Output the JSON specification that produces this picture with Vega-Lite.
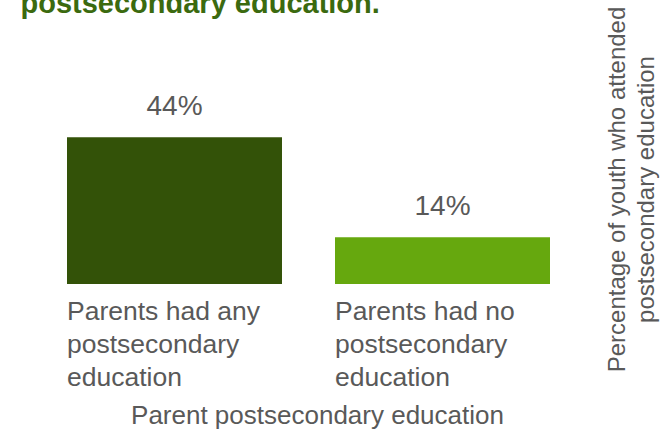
{
  "$schema": "https://vega.github.io/schema/vega-lite/v6.json",
  "width": 483,
  "height": 190,
  "autosize": {"type": "none"},
  "padding": {"left": 67, "top": 94, "right": 115, "bottom": 150},
  "background": "white",
  "config": {
    "view": {"stroke": null},
    "font": "Liberation Sans"
  },
  "title": {
    "text": "postsecondary education.",
    "anchor": "start",
    "dx": -46,
    "offset": -13,
    "font": "Liberation Sans",
    "fontSize": 29,
    "fontWeight": "bold",
    "color": "#3b6a0f"
  },
  "data": {
    "values": [
      {"group": "Parents had any\npostsecondary\neducation", "pct": 44, "label": "44%"},
      {"group": "Parents had no\npostsecondary\neducation", "pct": 14, "label": "14%"}
    ]
  },
  "encoding": {
    "x": {
      "field": "group",
      "type": "nominal",
      "sort": null,
      "scale": {"paddingInner": 0.1978, "paddingOuter": 0},
      "axis": {
        "title": "Parent postsecondary education",
        "titleFontSize": 26,
        "titleFontWeight": "normal",
        "titleColor": "#595959",
        "titlePadding": 12,
        "titleX": 250,
        "labelExpr": "split(datum.label, '\\n')",
        "labelAngle": 0,
        "labelAlign": "left",
        "labelOffset": -107.5,
        "labelLimit": 400,
        "labelFontSize": 26.5,
        "labelLineHeight": 33,
        "labelColor": "#595959",
        "labelPadding": 14,
        "ticks": false,
        "domain": false,
        "grid": false
      }
    },
    "y": {
      "field": "pct",
      "type": "quantitative",
      "scale": {"domain": [0, 57]},
      "axis": {
        "orient": "right",
        "title": ["Percentage of youth who attended", "postsecondary education"],
        "titleAngle": 270,
        "titleFontSize": 24,
        "titleFontWeight": "normal",
        "titleColor": "#595959",
        "titleLineHeight": 29,
        "titlePadding": 50,
        "labels": false,
        "ticks": false,
        "domain": false,
        "grid": false
      }
    }
  },
  "layer": [
    {
      "mark": {"type": "bar"},
      "encoding": {
        "color": {
          "field": "group",
          "type": "nominal",
          "scale": {"range": ["#335208", "#66a80e"]},
          "legend": null
        }
      }
    },
    {
      "mark": {"type": "text", "baseline": "bottom", "dy": -16, "fontSize": 28, "color": "#595959"},
      "encoding": {
        "text": {"field": "label"}
      }
    }
  ]
}
